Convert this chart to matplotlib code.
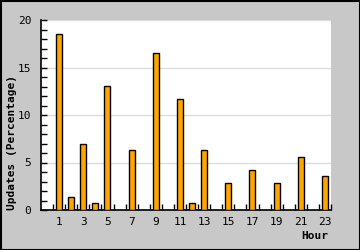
import numpy as np
import matplotlib.pyplot as plt
from matplotlib.patches import Rectangle

# Ore del giorno e percentuale di aggiornamenti
ore = [1, 2, 3, 4, 5, 7, 9, 11, 12, 13, 15, 17, 19, 21, 23]
aggiornamenti = [18.5, 1.4, 6.9, 0.7, 13.1, 6.3, 16.5, 11.7, 0.7, 6.3, 2.8, 4.2, 2.8, 5.6, 3.6]
etichette_x = [str(h) for h in range(1, 24, 2)]

fig = plt.figure(figsize=(3.6, 2.5), dpi=100, facecolor='#c8c8c8')
ax = fig.add_axes([41/360, 40/250, 290/360, 190/250])
ax.set_facecolor('white')

ax.bar(ore, aggiornamenti, width=0.5, color='#ffa500', edgecolor='black', linewidth=1, zorder=3)

ax.set_xlim(-0.5, 23.5)
ax.set_ylim(0, 20)

ax.set_xticks(range(1, 24, 2))
ax.set_xticklabels(etichette_x)
ax.set_xticks(np.arange(0.5, 24, 1), minor=True)
ax.set_yticks([0, 5, 10, 15, 20])
ax.set_yticks(range(0, 21), minor=True)

mono = 'DejaVu Sans Mono'
ax.tick_params(axis='x', which='major', length=0, pad=5, labelsize=8)
ax.tick_params(axis='x', which='minor', direction='in', length=4, width=1)
ax.tick_params(axis='y', which='both', direction='in', length=4, width=1, pad=7, labelsize=8)
for lab in ax.get_xticklabels() + ax.get_yticklabels():
    lab.set_fontfamily(mono)

ax.grid(True, axis='y', which='major', color='#dddddd', linewidth=1, zorder=0)
ax.spines['top'].set_visible(False)
ax.spines['right'].set_visible(False)
ax.spines['left'].set_linewidth(1.2)
ax.spines['bottom'].set_linewidth(1.2)

fig.text(12/360, 1 - 143/250, 'Updates (Percentage)', rotation=90, ha='center', va='center',
         fontfamily=mono, fontweight='bold', fontsize=8)
fig.text(328/360, 1 - 236/250, 'Hour', ha='right', va='center',
         fontfamily=mono, fontweight='bold', fontsize=8)

# bordo nero intorno alla figura
fig.patches.append(Rectangle((0.5/360, 0.5/250), 359/360, 249/250, transform=fig.transFigure,
                             fill=False, edgecolor='black', linewidth=1.5))

fig.savefig('out.png', dpi=100, facecolor=fig.get_facecolor())
